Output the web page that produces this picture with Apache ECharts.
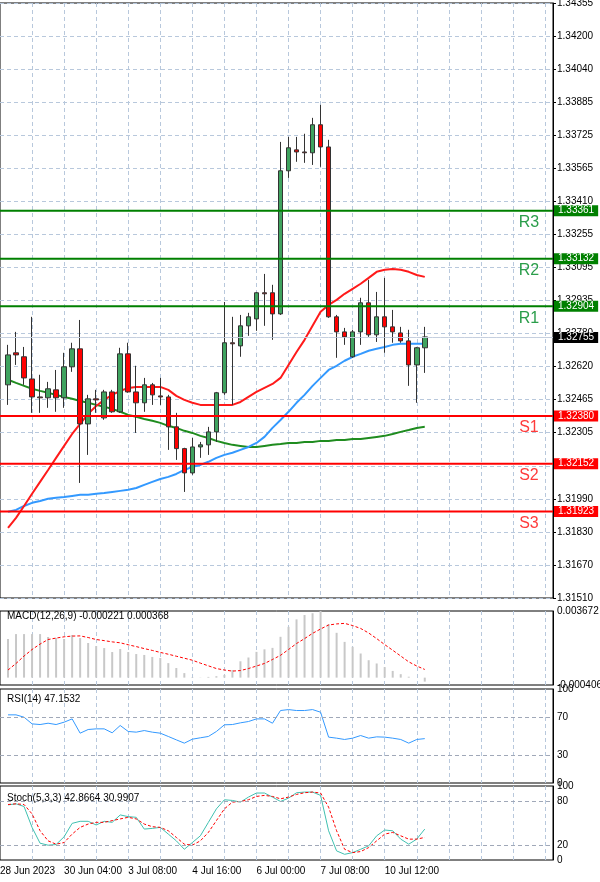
<!DOCTYPE html>
<html><head><meta charset="utf-8">
<script src="https://cdn.jsdelivr.net/npm/echarts@6/dist/echarts.min.js"></script>
<style>html,body{margin:0;padding:0;background:#fff}#c{width:600px;height:882px}</style>
</head><body><div id="c"></div>
<script>
// ---- DATA ----
const xTickLabels = ['28 Jun 2023','30 Jun 04:00','3 Jul 08:00','4 Jul 16:00','6 Jul 00:00','7 Jul 08:00','10 Jul 12:00'];
const priceTickLabels = ['1.31510','1.31670','1.31830','1.31990','1.32150','1.32305','1.32465','1.32620','1.32780','1.32935','1.33095','1.33255','1.33410','1.33565','1.33725','1.33885','1.34040','1.34200','1.34355'];
// [open, close, low, high]
const ohlc = [
[1.32529,1.32672,1.32433,1.32720],[1.32682,1.32672,1.32624,1.32782],[1.32663,1.32562,1.32529,1.32710],
[1.32557,1.32471,1.32395,1.32854],[1.32471,1.32467,1.32395,1.32577],[1.32467,1.32510,1.32419,1.32543],
[1.32505,1.32467,1.32400,1.32600],[1.32467,1.32615,1.32419,1.32682],[1.32615,1.32701,1.32591,1.32730],
[1.32701,1.32342,1.32060,1.32839],[1.32342,1.32462,1.32194,1.32481],[1.32462,1.32457,1.32395,1.32505],
[1.32371,1.32495,1.32362,1.32505],[1.32495,1.32400,1.32395,1.32505],[1.32400,1.32677,1.32395,1.32706],
[1.32677,1.32495,1.32491,1.32730],[1.32495,1.32443,1.32299,1.32620],[1.32443,1.32529,1.32400,1.32562],
[1.32529,1.32481,1.32433,1.32538],[1.32476,1.32471,1.32433,1.32562],[1.32471,1.32328,1.32218,1.32481],
[1.32328,1.32224,1.32170,1.32395],[1.32224,1.32108,1.32017,1.32228],[1.32108,1.32232,1.32099,1.32275],
[1.32232,1.32242,1.32180,1.32256],[1.32242,1.32304,1.32194,1.32328],[1.32304,1.32491,1.32256,1.32495],
[1.32491,1.32730,1.32481,1.32925],[1.32730,1.32725,1.32433,1.32854],[1.32715,1.32811,1.32663,1.32863],
[1.32811,1.32854,1.32763,1.32873],[1.32844,1.32969,1.32787,1.32973],[1.32969,1.32964,1.32811,1.33059],
[1.32969,1.32868,1.32744,1.33007],[1.32868,1.33552,1.32863,1.33690],[1.33552,1.33662,1.33518,1.33714],
[1.33652,1.33642,1.33595,1.33714],[1.33642,1.33638,1.33590,1.33729],[1.33638,1.33772,1.33580,1.33805],
[1.33772,1.33666,1.33571,1.33867],[1.33666,1.32854,1.32849,1.33700],[1.32854,1.32782,1.32658,1.32863],
[1.32782,1.32758,1.32720,1.32801],[1.32663,1.32782,1.32658,1.32792],[1.32782,1.32921,1.32720,1.32945],
[1.32921,1.32768,1.32758,1.33031],[1.32768,1.32854,1.32734,1.32973],[1.32854,1.32806,1.32682,1.33040],
[1.32806,1.32782,1.32730,1.32887],[1.32777,1.32739,1.32730,1.32806],[1.32739,1.32624,1.32524,1.32792],
[1.32624,1.32706,1.32443,1.32710],[1.32706,1.32758,1.32586,1.32806]
];
const maRed = [1.31845,1.31893,1.31950,1.32008,1.32065,1.32122,1.32180,1.32237,1.32294,1.32342,1.32390,1.32428,1.32457,1.32481,1.32500,1.32514,1.32519,1.32519,1.32519,1.32519,1.32505,1.32476,1.32457,1.32443,1.32433,1.32433,1.32433,1.32433,1.32433,1.32447,1.32471,1.32495,1.32514,1.32533,1.32562,1.32624,1.32686,1.32744,1.32811,1.32878,1.32911,1.32935,1.32964,1.32988,1.33012,1.33040,1.33069,1.33079,1.33083,1.33079,1.33069,1.33054,1.33045];
const maBlue = [1.31922,1.31931,1.31950,1.31965,1.31974,1.31984,1.31989,1.31993,1.31998,1.32003,1.32003,1.32008,1.32012,1.32017,1.32022,1.32027,1.32036,1.32051,1.32065,1.32079,1.32089,1.32103,1.32122,1.32137,1.32146,1.32161,1.32180,1.32194,1.32204,1.32218,1.32232,1.32251,1.32280,1.32323,1.32361,1.32400,1.32443,1.32481,1.32524,1.32562,1.32600,1.32620,1.32644,1.32663,1.32677,1.32692,1.32701,1.32710,1.32720,1.32725,1.32725,1.32725,1.32725];
const maGreen = [1.32553,1.32538,1.32524,1.32510,1.32500,1.32491,1.32481,1.32471,1.32462,1.32452,1.32443,1.32433,1.32424,1.32414,1.32400,1.32385,1.32376,1.32366,1.32357,1.32347,1.32333,1.32323,1.32309,1.32299,1.32285,1.32275,1.32261,1.32251,1.32242,1.32237,1.32232,1.32232,1.32237,1.32242,1.32246,1.32251,1.32251,1.32256,1.32256,1.32261,1.32261,1.32265,1.32265,1.32270,1.32270,1.32275,1.32280,1.32285,1.32294,1.32304,1.32313,1.32323,1.32328];
const levelNames = ['R3','R2','R1','S1','S2','S3'];
const levelValues = [1.33361,1.33132,1.32904,1.32380,1.32152,1.31923];
const lastPrice = 1.32755;
const macdMain = [0.00213,0.00240,0.00240,0.00240,0.00240,0.00224,0.00218,0.00213,0.00235,0.00218,0.00191,0.00174,0.00163,0.00141,0.00158,0.00141,0.00130,0.00125,0.00114,0.00108,0.00080,0.00053,0.00025,0.00003,0.00001,0.00004,0.00008,0.00015,0.00042,0.00090,0.00111,0.00142,0.00156,0.00164,0.00225,0.00280,0.00321,0.00345,0.00355,0.00367,0.00295,0.00247,0.00197,0.00170,0.00133,0.00096,0.00078,0.00058,0.00037,0.00019,0.00005,0.00000,-0.00022];
const macdSignal = [0.00042,0.00078,0.00119,0.00155,0.00185,0.00210,0.00218,0.00225,0.00229,0.00230,0.00221,0.00210,0.00204,0.00197,0.00192,0.00181,0.00171,0.00160,0.00150,0.00139,0.00129,0.00118,0.00107,0.00096,0.00080,0.00065,0.00050,0.00042,0.00036,0.00039,0.00050,0.00064,0.00078,0.00100,0.00123,0.00155,0.00188,0.00215,0.00244,0.00268,0.00290,0.00296,0.00299,0.00287,0.00271,0.00246,0.00215,0.00182,0.00151,0.00119,0.00087,0.00064,0.00045];
const rsi = [72.5,72.5,70,62.9,62.2,63.6,62.2,64.7,68.2,53.0,56.9,57.6,57.6,53.4,61.2,54.8,54.1,55.8,54.1,53.0,49.5,45.9,42.4,46.6,48.1,49.5,54.8,61.9,62.2,64.0,65.4,68.2,68.2,63.6,77.1,78.1,77.1,77.1,78.1,75.3,48.8,47.7,46.3,47.7,50.5,47.7,49.1,48.8,47.7,46.3,42.4,46.3,47.2];
const stochMain = [74.5,75.9,72.3,44.1,22.7,20.0,20.9,31.4,49.5,52.3,52.3,47.3,52.3,50.9,60.9,58.6,57.7,41.8,42.7,44.1,35.0,25.9,14.5,23.6,32.7,50.9,69.1,81.4,80.5,78.2,85.0,90.5,90.5,85.0,79.1,83.6,90.9,91.8,91.8,87.3,39.5,12.3,7.7,10.0,14.5,19.1,32.7,40.5,39.5,28.2,21.4,28.2,41.8];
const stochSignal = [75,75.9,75,62.3,39.5,25.9,21.4,23.6,35,44.1,48.6,50.9,50.9,53.2,55.5,57.7,55.5,48.6,45,44.1,39.5,30.5,21.4,20,25.9,37.3,53.2,69.1,78.2,79.1,81.4,85.9,87.3,85.9,82.7,85,88.6,90.9,91.8,90.5,71.4,39.5,14.5,10,11.4,16.8,25.9,35,37.3,32.7,28.2,28.2,30.5];

// ---- BUILD ----
const N = 70;
const cats = Array.from({length:N},(_,j)=>String(j));
const pad = a => a.map((v,i)=>[String(i+1),v]);
const flat = v => cats.map(c=>[c,v]);
const FONT = 'Liberation Sans';
const gridLine = {show:true,interval:(j)=>j%4===0&&j>0,lineStyle:{color:'#b8c8dc',type:[4,3]}};
function xAxis(g,labels){
  return {type:'category',gridIndex:g,data:cats,boundaryGap:false,
    axisLine:{show:false},axisTick:{show:false},splitLine:gridLine,
    axisLabel:{show:labels,interval:(j)=>j%8===0,formatter:(v,j)=>xTickLabels[j/8]||'',
      align:'left',color:'#000',fontFamily:FONT,fontSize:10,margin:6}};
}
const PMIN=1.31510, PINT=0.00158;
const lvlColors = levelNames.map(n=>n[0]==='R'?'#008000':'#ff0000');
const lvlLabelColors = levelNames.map(n=>n[0]==='R'?'#2a9d4a':'#ff3b3b');
const G = (top,height)=>({left:0,right:47,top,height,show:true,borderColor:'#000',borderWidth:1,outerBoundsMode:'none',containLabel:false});
const yLbl = {color:'#000',fontSize:10,margin:4,fontFamily:FONT};
function hLine(v,color,width,box,name){
  return {type:'line',xAxisIndex:0,yAxisIndex:0,data:flat(v),symbol:'none',silent:true,z:4,
    lineStyle:{color,width},
    endLabel:{show:true,formatter:v.toFixed(5),color:'#fff',backgroundColor:box,padding:[1,4,0,4],
      fontSize:10,fontFamily:FONT,distance:1},
    markPoint:name?{silent:true,symbol:'circle',symbolSize:1,itemStyle:{color:'transparent'},
      data:[{coord:['66',v],label:{show:true,position:'inside',formatter:name,color:lvlLabelColors[levelNames.indexOf(name)],fontSize:16,fontFamily:FONT,offset:[0,12]}}]}:undefined};
}

const option = {
  animation:false,
  textStyle:{fontFamily:FONT},
  title:[
    {text:'MACD(12,26,9) -0.000221 0.000368',left:2,top:606,textStyle:{fontSize:10,fontWeight:'normal',color:'#000',fontFamily:FONT}},
    {text:'RSI(14) 47.1532',left:2,top:689,textStyle:{fontSize:10,fontWeight:'normal',color:'#000',fontFamily:FONT}},
    {text:'Stoch(5,3,3) 42.8664 30.9907',left:2,top:788,textStyle:{fontSize:10,fontWeight:'normal',color:'#000',fontFamily:FONT}}
  ],
  grid:[G(3,595),G(611,74),G(689,94),G(786,74)],
  xAxis:[xAxis(0,false),xAxis(1,false),xAxis(2,false),xAxis(3,true)],
  yAxis:[
    {type:'value',gridIndex:0,position:'right',min:PMIN,max:PMIN+18*PINT,interval:PINT,
      axisLine:{show:true,lineStyle:{color:'#000'}},axisTick:{show:true,length:3,lineStyle:{color:'#000'}},
      splitLine:{show:true,lineStyle:{color:'#b8c8dc',type:[4,3]}},
      axisLabel:Object.assign({formatter:v=>priceTickLabels[Math.round((v-PMIN)/PINT)]||''},yLbl)},
    {type:'value',gridIndex:1,position:'right',min:-0.000406,max:0.003672,interval:0.004078,
      axisLine:{show:true,lineStyle:{color:'#000'}},axisTick:{show:false},splitLine:{show:false},
      axisLabel:Object.assign({formatter:v=>v>0?'0.003672':'-0.000406'},yLbl)},
    {type:'value',gridIndex:2,position:'right',min:0,max:100,interval:10,
      axisLine:{show:true,lineStyle:{color:'#000'}},axisTick:{show:false},splitLine:{show:false},
      axisLabel:Object.assign({formatter:v=>[0,30,70,100].includes(v)?String(v):''},yLbl)},
    {type:'value',gridIndex:3,position:'right',min:0,max:100,interval:10,
      axisLine:{show:true,lineStyle:{color:'#000'}},axisTick:{show:false},splitLine:{show:false},
      axisLabel:Object.assign({formatter:v=>[0,20,80,100].includes(v)?String(v):''},yLbl)}
  ],
  series:[
    hLine(lastPrice,'#c5cfdf',1,'#000',null),
    ...levelValues.map((v,k)=>hLine(v,lvlColors[k],2,lvlColors[k],levelNames[k])),
    {type:'line',xAxisIndex:0,yAxisIndex:0,data:pad(maGreen),symbol:'none',lineStyle:{color:'#1f8c1f',width:2},z:2},
    {type:'line',xAxisIndex:0,yAxisIndex:0,data:pad(maBlue),symbol:'none',lineStyle:{color:'#3399ff',width:2},z:2},
    {type:'line',xAxisIndex:0,yAxisIndex:0,data:pad(maRed),symbol:'none',lineStyle:{color:'#ff1a1a',width:2},z:2},
    {type:'candlestick',xAxisIndex:0,yAxisIndex:0,data:ohlc.map((d,i)=>[String(i+1)].concat(d)),
      encode:{x:0,y:[1,2,3,4]},barWidth:5,z:3,
      itemStyle:{color:'#3fa35f',color0:'#ff0000',borderColor:'#333',borderColor0:'#333',borderWidth:1}},
    {type:'bar',xAxisIndex:1,yAxisIndex:1,data:pad(macdMain),barWidth:2,itemStyle:{color:'#c8c8c8'}},
    {type:'line',xAxisIndex:1,yAxisIndex:1,data:pad(macdSignal),symbol:'none',lineStyle:{color:'#ff0000',width:1,type:[3,2]}},
    {type:'line',xAxisIndex:2,yAxisIndex:2,data:pad(rsi),symbol:'none',lineStyle:{color:'#3399ff',width:1},
      markLine:{silent:true,symbol:'none',label:{show:false},lineStyle:{color:'#a0a8b8',type:[4,3],width:1},data:[{yAxis:30},{yAxis:70}]}},
    {type:'line',xAxisIndex:3,yAxisIndex:3,data:pad(stochMain),symbol:'none',lineStyle:{color:'#40c0b0',width:1},
      markLine:{silent:true,symbol:'none',label:{show:false},lineStyle:{color:'#a0a8b8',type:[4,3],width:1},data:[{yAxis:20},{yAxis:80}]}},
    {type:'line',xAxisIndex:3,yAxisIndex:3,data:pad(stochSignal),symbol:'none',lineStyle:{color:'#ff0000',width:1,type:[3,2]}}
  ]
};
const chart = echarts.init(document.getElementById('c'),null,{renderer:'canvas'});
chart.setOption(option);
</script></body></html>
